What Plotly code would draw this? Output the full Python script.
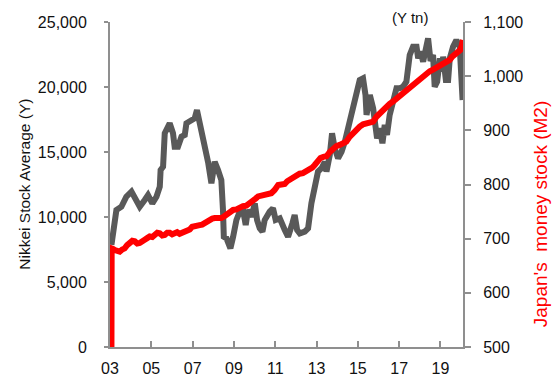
import plotly.graph_objects as go

# Nikkei Stock Average (Y) (decimal year, value)
nikkei_t = [2003.07, 2003.23, 2003.31, 2003.55, 2003.79, 2004.04, 2004.20, 2004.44, 2004.68, 2004.84,
            2005.05, 2005.25, 2005.41, 2005.45, 2005.57, 2005.65, 2005.89, 2006.05, 2006.13, 2006.29,
            2006.46, 2006.62, 2006.70, 2006.94, 2007.10, 2007.21, 2007.34, 2007.50, 2007.67, 2007.75,
            2007.91, 2008.07, 2008.23, 2008.31, 2008.39, 2008.47, 2008.51, 2008.64, 2008.83, 2008.96,
            2009.12, 2009.28, 2009.44, 2009.57, 2009.68, 2009.85, 2010.01, 2010.12, 2010.25, 2010.38,
            2010.49, 2010.73, 2010.89, 2011.02, 2011.22, 2011.46, 2011.62, 2011.83, 2011.94, 2012.06,
            2012.19, 2012.43, 2012.59, 2012.75, 2012.91, 2013.07, 2013.24, 2013.40, 2013.48, 2013.64,
            2013.75, 2013.88, 2014.04, 2014.21, 2014.37, 2014.61, 2014.77, 2014.93, 2015.09, 2015.25,
            2015.37, 2015.42, 2015.58, 2015.74, 2015.82, 2015.93, 2016.06, 2016.19, 2016.30, 2016.41,
            2016.54, 2016.70, 2016.87, 2017.03, 2017.19, 2017.35, 2017.51, 2017.67, 2017.84, 2017.92,
            2018.03, 2018.16, 2018.32, 2018.40, 2018.52, 2018.64, 2018.72, 2018.84, 2018.97, 2019.05,
            2019.13, 2019.26, 2019.37, 2019.45, 2019.61, 2019.77, 2019.93, 2020.02, 2020.07]
nikkei_v = [7850, 10020, 10540, 10790, 11560, 11950, 11560, 10790, 11310, 11690,
            11050, 11560, 12330, 13615, 13870, 16440, 17210, 16440, 15410, 15410,
            16180, 16310, 17210, 17460, 17590, 18230, 17210, 16200, 15150, 14200,
            12590, 14250, 13615, 13360, 12850, 10540, 8480, 8360, 7590, 8480,
            9770, 10410, 10540, 9380, 10540, 10020, 11050, 9770, 9130, 8870,
            9770, 10410, 10670, 9770, 9900, 9000, 8480, 9510, 10150, 9000,
            8740, 8870, 9130, 11050, 12330, 13490, 13750, 14250, 13490, 14770,
            16440, 15280, 14520, 15020, 15790, 17330, 18610, 19380, 20540, 20670,
            19380, 17850, 19380, 18360, 16820, 16050, 16820, 15670, 17080, 16310,
            17850, 19130, 19900, 19900, 20020, 20410, 22460, 23100, 23100, 22200,
            22720, 21950, 23000, 23740, 22000, 22460, 20020, 20410, 22200, 21180,
            22330, 20540, 20540, 22200, 23100, 23610, 23100, 20790, 19000]

# Japan's money stock M2 (Y tn)
m2_t = [2003.07, 2003.08, 2003.15, 2003.23, 2003.35, 2003.47, 2003.59, 2003.71, 2003.83, 2003.96,
        2004.08, 2004.20, 2004.32, 2004.44, 2004.56, 2004.68, 2004.80, 2004.92, 2005.05, 2005.17,
        2005.29, 2005.41, 2005.53, 2005.65, 2005.77, 2005.89, 2006.01, 2006.13, 2006.25, 2006.37,
        2006.49, 2006.62, 2006.74, 2006.86, 2006.98, 2007.10, 2007.22, 2007.34, 2007.46, 2007.58,
        2007.70, 2007.83, 2007.95, 2008.07, 2008.23, 2008.39, 2008.52, 2008.64, 2008.80, 2008.96,
        2009.12, 2009.28, 2009.44, 2009.60, 2009.77, 2009.93, 2010.05, 2010.17, 2010.33, 2010.49,
        2010.65, 2010.81, 2010.97, 2011.14, 2011.30, 2011.46, 2011.58, 2011.70, 2011.86, 2012.02,
        2012.18, 2012.34, 2012.50, 2012.67, 2012.79, 2012.91, 2013.05, 2013.19, 2013.33, 2013.48,
        2013.64, 2013.80, 2013.96, 2014.12, 2014.28, 2014.44, 2014.60, 2014.77, 2014.93, 2015.09,
        2015.25, 2015.41, 2015.57, 2015.74, 2015.90, 2016.06, 2016.22, 2016.38, 2016.54, 2016.70,
        2016.86, 2017.03, 2017.19, 2017.35, 2017.51, 2017.67, 2017.83, 2017.99, 2018.15, 2018.32,
        2018.48, 2018.64, 2018.80, 2018.97, 2019.13, 2019.29, 2019.45, 2019.57, 2019.69, 2019.85,
        2019.95, 2020.02, 2020.09]
m2_v = [500, 682, 681, 679, 676, 676, 680, 682, 688, 692,
        696, 695, 691, 692, 697, 698, 701, 704, 703, 707,
        711, 710, 706, 707, 711, 711, 708, 710, 712, 709,
        711, 713, 714, 717, 722, 724, 726, 725, 726, 729,
        733, 735, 737, 738, 738, 738, 741, 744, 750, 753,
        754, 758, 760, 761, 765, 769, 774, 778, 780, 781,
        782, 784, 790, 799, 800, 801, 806, 809, 815, 818,
        820, 821, 824, 827, 831, 836, 843, 849, 851, 852,
        860, 867, 871, 873, 876, 879, 888, 895, 902, 907,
        911, 913, 915, 916, 925, 932, 939, 944, 949, 953,
        958, 966, 970, 975, 980, 984, 989, 993, 1000, 1006,
        1009, 1012, 1015, 1018, 1023, 1027, 1030, 1036, 1040, 1043,
        1048, 1055, 1067]

x_tickvals = [2003, 2005, 2007, 2009, 2011, 2013, 2015, 2017, 2019]
x_ticklabels = ["03", "05", "07", "09", "11", "13", "15", "17", "19"]

FONT = "Liberation Sans, Arial, sans-serif"
AXIS = "#8f8f8f"

fig = go.Figure()
fig.add_trace(go.Scatter(x=nikkei_t, y=nikkei_v, mode="lines",
                         line=dict(color="#595959", width=6), yaxis="y", showlegend=False))
fig.add_trace(go.Scatter(x=m2_t, y=m2_v, mode="lines",
                         line=dict(color="#ff0000", width=6), yaxis="y2", showlegend=False))

fig.update_layout(
    width=554, height=378,
    margin=dict(l=110, r=91, t=22, b=31, autoexpand=False),
    paper_bgcolor="white", plot_bgcolor="white",
    font=dict(family=FONT, size=16, color="#111111"),
    xaxis=dict(range=[2003, 2020.09], tickmode="array", tickvals=x_tickvals, ticktext=x_ticklabels,
               showline=True, linecolor=AXIS, linewidth=2, ticks="inside", ticklen=6,
               tickcolor=AXIS, tickwidth=1.5, showgrid=False, zeroline=False, automargin=False,
               ticklabelstandoff=6, tickfont=dict(size=16)),
    yaxis=dict(range=[0, 25000], dtick=5000, tickformat=",", showline=True, linecolor=AXIS,
               linewidth=2, ticks="outside", ticklen=4, tickcolor=AXIS, tickwidth=1.5,
               showgrid=False, zeroline=False, automargin=False,
               ticklabelstandoff=14, tickfont=dict(size=16)),
    yaxis2=dict(range=[500, 1100], dtick=100, tickformat=",", overlaying="y", side="right",
                showline=True, linecolor=AXIS, linewidth=2, ticks="outside", ticklen=6,
                tickcolor=AXIS, tickwidth=1.5, showgrid=False, zeroline=False, automargin=False,
                ticklabelstandoff=9, tickfont=dict(size=16)),
    annotations=[
        dict(text="Nikkei Stock Average (Y)", xref="paper", yref="paper",
             x=(24 - 110.3) / 353, y=(347 - 184) / 325, textangle=-90, showarrow=False,
             xanchor="center", yanchor="middle", font=dict(size=15.5, color="#111111")),
        dict(text="Japan's  money stock (M2)", xref="paper", yref="paper",
             x=(541.5 - 110.3) / 353, y=(347 - 214) / 325, textangle=-90, showarrow=False,
             xanchor="center", yanchor="middle", font=dict(size=19, color="#ff0000")),
        dict(text="(Y tn)", xref="paper", yref="paper",
             x=(410 - 110.3) / 353, y=(347 - 17) / 325, showarrow=False,
             xanchor="center", yanchor="middle", font=dict(size=15, color="#111111")),
    ],
)

fig.write_html("out.html", config={"displayModeBar": False},
               post_script="document.body.style.margin='0';document.body.style.overflow='hidden';")
